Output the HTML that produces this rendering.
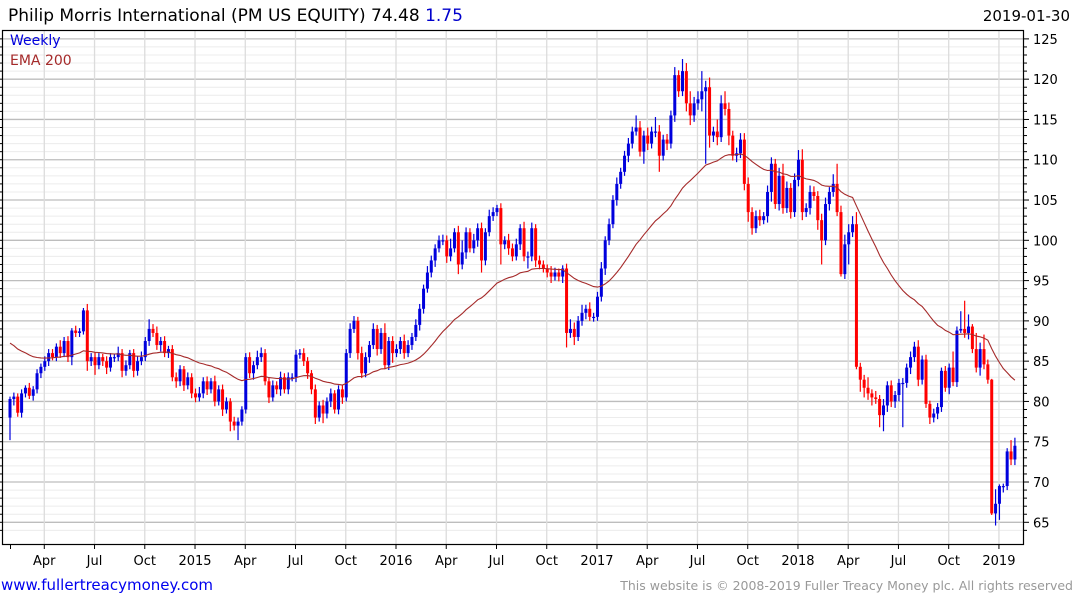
<!DOCTYPE html>
<html><head><meta charset="utf-8">
<style>
html,body{margin:0;padding:0;background:#fff;}
body{width:1075px;height:600px;overflow:hidden;font-family:"DejaVu Sans","Liberation Sans",sans-serif;}
svg text{font-family:"DejaVu Sans","Liberation Sans",sans-serif;}
</style></head>
<body>
<svg id="chart" width="1075" height="600" viewBox="0 0 1075 600" xmlns="http://www.w3.org/2000/svg">
<text x="8" y="21" font-size="17" fill="#000">Philip Morris International (PM US EQUITY) 74.48 <tspan fill="#0000cc">1.75</tspan></text>
<text x="1070" y="21" font-size="15" fill="#000" text-anchor="end">2019-01-30</text>
<g id="grid"></g>
<g id="marks"></g>
<rect x="2.5" y="30.5" width="1021" height="514" fill="none" stroke="#000" stroke-width="1.2"/>
<g id="axes"></g>
<text x="10" y="45" font-size="14" fill="#0000dd">Weekly</text>
<text x="10" y="65" font-size="14" fill="#a52a2a">EMA 200</text>
<text x="1" y="590" font-size="15" fill="#0000ee">www.fullertreacymoney.com</text>
<text x="1073" y="590" font-size="12.5" fill="#999" text-anchor="end">This website is © 2008-2019 Fuller Treacy Money plc. All rights reserved</text>
</svg>
<script>
const closes = [
80.3,80.6,78.6,81,81.7,80.7,81.5,83.5,84.3,
85,86,85.5,86.8,86,87.5,85.5,88.8,88.5,88.7,91.3,85,85.5,
84.5,85.5,85,84.2,85.5,85.5,86,83.8,84.5,86,83.8,85,85.5,
87.5,89,88.5,87,87.5,86,86.5,83,82.5,84,82,83,81,
80.5,81,82.5,81.5,82.5,80,81.5,79,80,77.5,77,77.5,79,
85.5,83.5,84.5,85.5,86,82.5,80.5,82,81.5,83,81.5,83,83,
85.8,86,85,83.5,81.5,78,79.5,78.5,80,81,79,81.5,80.5,
86,89,90,86,83.5,85.5,87,89,86.5,88.5,84.5,87.5,86,
86.5,87.5,86,87,88,89.5,91.5,94,96,97.5,99,100,100,
98,99,101,97,98.5,101,99,100,101.5,97.5,101,103,103.5,
104,99.5,100,99,98,99.5,101.5,98,98,101.5,97.5,97,96.5,
96,95.5,96,95.5,96.5,88.5,89,88,90,91,91.5,90.5,90.5,
93,96.5,100,102,105,107,108.5,110.5,112,113.5,114,111,113,
112,113.5,113.5,110.5,112.5,112,115.5,120.5,118.5,121,117,115.5,117,
117.5,118.5,119,113,113.5,112.8,117,116.3,113,110.5,110.8,112.5,107,
103.5,101.5,103,102.5,103,106,109.5,104.5,108,104,106.5,103.5,107.5,
110,103.5,104,106,105.5,102.5,100,104.5,106,107,103.5,95.8,99.5,
101,102,84.3,82.7,81.7,81,80.5,80.3,78.3,79.5,82,80,80.8,
82.3,82.3,84.2,85.5,86.8,82.7,85.2,79.7,78,78.5,79.3,83.8,81.7,
84.2,82.4,88.8,89,88.5,89.3,86.5,84.2,86.5,84.6,82.7,66.1,67.3,
69.5,69.5,73.8,72.8,74.5
];
const upperWick = [
0.3,0.5,0.4,0.5,0.3,0.6,0.4,0.5,0.4,
0.6,0.5,0.5,0.4,0.8,0.5,0.6,0.3,0.6,0.4,0.3,0.8,0.5,
0.6,0.5,0.4,0.6,0.5,0.4,0.8,0.5,0.6,0.4,0.5,0.6,0.7,
0.5,1.2,0.6,0.8,0.5,0.6,0.4,0.5,0.6,0.5,0.4,0.6,0.5,
0.6,0.8,0.5,0.6,0.4,0.7,0.5,0.6,0.5,0.4,0.6,0.5,0.4,
0.5,0.6,0.5,0.8,0.7,0.5,0.4,0.6,0.5,0.7,0.5,0.6,0.5,
0.6,0.5,0.6,0.5,0.4,0.6,0.5,0.7,0.5,0.6,0.4,0.5,0.6,
0.5,0.7,0.6,0.5,0.8,0.6,0.5,0.7,0.5,0.6,1.2,0.5,0.6,
0.6,0.5,0.8,0.6,0.5,0.7,0.6,0.5,0.8,0.6,0.5,0.6,0.7,
0.6,1.2,0.5,0.8,1.5,0.6,0.5,0.8,0.6,0.7,0.5,0.8,0.6,
0.4,0.6,0.5,0.8,0.6,0.7,0.5,0.8,0.6,0.7,0.5,0.6,0.5,
0.5,0.8,0.6,0.5,0.4,0.6,1.2,0.8,0.6,1.0,0.5,0.8,0.5,
0.6,0.8,0.5,0.7,0.6,0.8,0.5,0.6,0.7,0.6,1.5,0.8,0.6,
1.0,0.6,1.8,0.8,0.6,0.7,0.6,1.0,0.6,1.5,1.0,1.5,0.8,
1.0,2.5,0.8,1.2,0.6,1.5,1.0,1.5,0.8,0.6,0.7,0.8,0.8,
0.8,0.6,0.7,0.8,0.5,0.8,0.8,0.6,1.0,1.5,0.8,0.6,0.8,
1.2,1.3,0.6,0.8,0.7,0.6,0.8,0.8,0.6,1.2,2.5,0.8,1.2,
1.0,1.0,1.5,0.5,0.6,1.3,0.5,0.8,0.5,0.8,0.5,0.6,0.5,
0.5,0.6,0.5,0.7,0.6,0.8,0.5,0.6,0.4,0.6,0.5,0.4,0.6,
0.5,2.0,0.5,2.2,3.5,1.5,0.3,2.0,0.8,1.8,0.6,0.1,1.8,
0.2,0.3,0.4,1.4,1.0
];
const lowerWick = [
2.8,0.8,0.5,0.6,0.5,0.4,0.6,0.5,0.6,
0.5,0.6,0.4,0.5,0.6,0.5,0.6,1.0,0.5,0.5,0.4,1.2,0.6,
1.2,0.5,0.6,0.8,0.5,0.6,0.5,0.8,0.6,0.5,0.8,0.6,0.5,
0.5,0.6,0.5,0.6,0.8,0.5,0.6,0.5,0.8,0.6,0.7,0.5,0.6,
0.6,0.5,0.6,0.7,0.5,0.6,0.5,0.8,0.5,1.2,0.6,1.8,0.5,
0.5,0.6,0.8,0.5,0.6,0.5,0.7,0.5,0.6,0.8,0.5,0.6,0.5,
0.6,0.5,0.6,0.7,0.6,0.8,0.5,1.2,0.6,0.7,0.5,0.6,0.8,
0.5,0.6,0.5,0.8,0.6,0.5,0.7,0.5,0.8,0.6,0.5,0.6,1.2,
0.5,0.6,0.7,0.5,0.6,0.5,0.7,0.6,0.5,0.6,0.8,0.5,0.6,
0.8,0.6,0.5,1.2,0.6,0.8,0.5,0.6,0.8,1.5,0.6,0.5,0.6,
0.5,2.5,0.6,0.8,0.6,0.5,0.7,0.6,1.5,0.6,0.8,0.6,0.5,
0.6,0.8,0.5,0.6,0.8,1.8,0.6,1.0,0.5,0.6,0.8,0.5,0.6,
0.5,0.6,0.8,0.6,0.5,0.7,0.6,0.5,0.8,0.6,0.5,0.6,1.5,
0.8,0.6,0.7,2.0,0.6,0.8,0.6,0.8,0.7,0.6,1.0,1.2,0.8,
0.8,1.5,9.0,1.5,0.8,1.0,0.6,0.8,1.2,0.6,0.8,0.6,0.8,
1.2,0.8,0.6,0.7,0.5,0.8,1.2,0.6,0.8,0.7,0.6,0.8,0.6,
0.8,1.0,0.6,0.8,0.6,1.2,3.0,0.6,0.8,0.6,0.5,0.3,0.6,
2.5,0.6,0.3,1.5,1.2,0.8,1.0,0.6,1.5,2.0,0.8,0.7,0.8,
0.8,5.5,0.6,0.8,0.6,0.8,0.6,0.5,0.8,0.6,0.7,0.6,0.5,
0.8,0.5,0.6,0.3,0.6,0.8,0.5,0.6,1.0,0.6,0.5,0.2,1.5,
2.0,0.8,0.5,0.7,0.7
];
const firstOpen = 78;
const emaSeed = 87.6;
const emaPeriod = 40;
const yTicks = [65,70,75,80,85,90,95,100,105,110,115,120,125];
const xTickLabels = ["Apr","Jul","Oct","2015","Apr","Jul","Oct","2016","Apr","Jul","Oct","2017","Apr","Jul","Oct","2018","Apr","Jul","Oct","2019"];
const xTickWeeks = [9,22,35,48,61,74,87,100,113,126,139,152,165,178,191,204,217,230,243,256];

const NS = "http://www.w3.org/2000/svg";
const X0 = 10, DX = 3.865;
function xOf(i){ return X0 + DX*i; }
function yOf(v){ return 522.3 - (v-65)*8.057; }
function mk(tag, attrs, parent){ const e=document.createElementNS(NS,tag); for(const k in attrs) e.setAttribute(k,attrs[k]); parent.appendChild(e); return e; }

const grid = document.getElementById('grid');
const marks = document.getElementById('marks');
const axes = document.getElementById('axes');

// horizontal gridlines (minor every 1, major every 5)
for(let v=64; v<=126; v++){
  const y = yOf(v);
  if(y<31 || y>544) continue;
  const major = v%5===0;
  const ln = mk('line',{x1:3,x2:1023,y1:y,y2:y,stroke:major?'#bdbdbd':'#ececec','stroke-width':major?1.3:1},grid);
  
  
  const tk = mk('line',{x1:1024,x2:major?1029:1027,y1:y,y2:y,stroke:'#000','stroke-width':1},axes);
  
  
  const lt = mk('line',{x1:0,x2:3,y1:y,y2:y,stroke:'#000','stroke-width':1},axes);
  
  
}
yTicks.forEach(v=>{
  const t = mk('text',{x:1033,y:yOf(v)+5,'font-size':13,fill:'#000'},axes);
  t.textContent = v;
  
  
});
// vertical gridlines
const vlines = [-3.9].concat(xTickWeeks);
vlines.forEach((w,k)=>{
  const x = xOf(w) + (k===0?0:-0.5);
  const ln = mk('line',{x1:x,x2:x,y1:31,y2:544,stroke:'#dcdcdc','stroke-width':1.3},grid);
  
  
});
[0].concat(xTickWeeks).forEach(w=>{
  const x = w===0 ? 10.5 : xOf(w)-0.5;
  const tk = mk('line',{x1:x,x2:x,y1:545,y2:549,stroke:'#000','stroke-width':1},axes);
  
  
});
xTickLabels.forEach((lab,k)=>{
  const t = mk('text',{x:xOf(xTickWeeks[k])-0.5,y:565,'font-size':13,fill:'#000','text-anchor':'middle'},axes);
  t.textContent = lab;
  
  
});

// EMA
const alpha = 2/(emaPeriod+1);
let ema = emaSeed; const pts=[];
closes.forEach((c,i)=>{ ema = ema + alpha*(c-ema); pts.push(xOf(i).toFixed(1)+','+yOf(ema).toFixed(1)); });

// candles
closes.forEach((c,i)=>{
  const o = i===0 ? firstOpen : closes[i-1];
  const up = c>=o;
  const col = up ? '#0000dd' : '#ff0000';
  const hi = Math.max(o,c)+upperWick[i], lo = Math.min(o,c)-lowerWick[i];
  const x = xOf(i);
  const g = mk('g',{},marks);
  
  
  const w = mk('line',{x1:x,x2:x,y1:yOf(hi),y2:yOf(lo),stroke:col,'stroke-width':1.2},g);
  
  
  const top = yOf(Math.max(o,c)), bot = yOf(Math.min(o,c));
  const b = mk('rect',{x:x-1.5,y:top,width:3,height:Math.max(1.2,bot-top),fill:col},g);
  
  
});
const pl = mk('polyline',{points:pts.join(' '),fill:'none',stroke:'#a52a2a','stroke-width':1.1},marks);


</script>
</body></html>
